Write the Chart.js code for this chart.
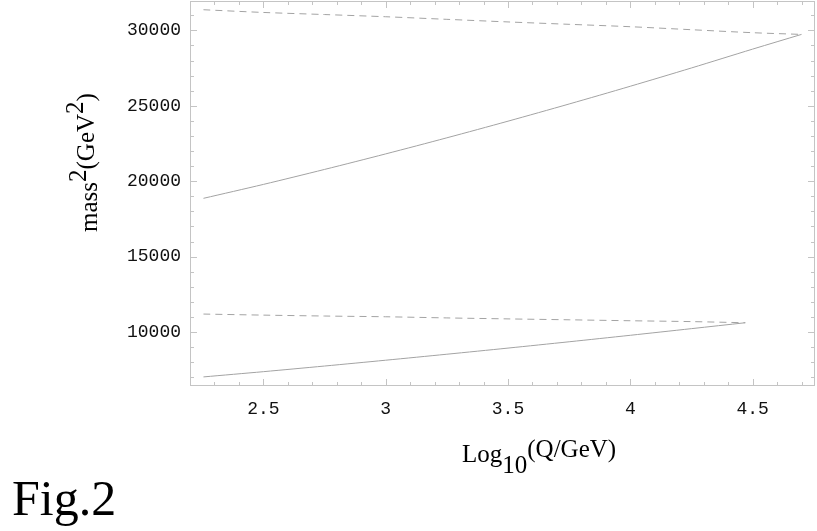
<!DOCTYPE html>
<html>
<head>
<meta charset="utf-8">
<script src="https://cdn.jsdelivr.net/npm/chart.js@4"></script>
<style>
	body { margin: 0; background: #fff; }
	#wrap { position: relative; width: 817px; height: 531px; }
	#plot { position: absolute; left: 0; top: 0; }
	.lbl { position: absolute; white-space: nowrap; font-family: "Liberation Serif", serif; color: #000; line-height: 1; }
	.lbl span { position: relative; }
	#ytitle { left: 76px; top: 232px; font-size: 25px; transform: rotate(-90deg); transform-origin: 0 0; }
	#xtitle { left: 462px; top: 441px; font-size: 25px; }
	#fig { left: 12px; top: 473px; font-size: 50px; }
</style>
</head>
<body>
<div id="wrap">
	<canvas id="plot" width="817" height="531"></canvas>
	<div class="lbl" id="ytitle">mass<span style="top:-11px">2</span><span style="top:-3px">(GeV</span><span style="top:-14px">2</span><span style="top:-3px">)</span></div>
	<div class="lbl" id="xtitle">Log<span style="top:11px">10</span><span style="top:-5px">(Q/GeV)</span></div>
	<div class="lbl" id="fig">Fig.2</div>
</div>
<script>
// values
var xUpper = [2.255, 2.5, 2.75, 3, 3.25, 3.5, 3.75, 4, 4.25, 4.5, 4.7];
var upperSolid = [18865, 19788, 20781, 21811, 22878, 23981, 25121, 26297, 27510, 28759, 29735];
var upperDashed = [31370, 31191, 31052, 30906, 30734, 30562, 30404, 30245, 30046, 29848, 29735];

var xLower = [2.255, 2.5, 2.75, 3, 3.25, 3.5, 3.75, 4, 4.25, 4.47];
var lowerSolid = [7023, 7370, 7744, 8130, 8527, 8934, 9353, 9783, 10223, 10615];
var lowerDashed = [11191, 11120, 11060, 11011, 10935, 10870, 10810, 10747, 10690, 10615];

var xTicks = [2.5, 3, 3.5, 4, 4.5];
var yTicks = [10000, 15000, 20000, 25000, 30000];

var lineGrey = "#a3a3a3",
	frameGrey = "#c4c4c4";

function toPoints(xs, ys) {
	var pts = [];
	xs.forEach(function (x, i) {
		pts.push({ x: x, y: ys[i] });
	});
	return pts;
}

function curve(xs, ys, dashed) {
	return {
		data: toPoints(xs, ys),
		showLine: true,
		borderColor: lineGrey,
		borderWidth: 1,
		borderDash: dashed ? [7, 5] : [],
		pointRadius: 0,
		tension: 0.3,
		fill: false
	};
}

// Mathematica style frame with inward ticks on all four sides
var framePlugin = {
	id: "frame",
	afterDatasetsDraw: function (chart) {
		var ctx = chart.ctx,
			a = chart.chartArea,
			xs = chart.scales.x,
			ys = chart.scales.y,
			v, p, len;

		ctx.save();
		ctx.strokeStyle = frameGrey;
		ctx.lineWidth = 1;
		ctx.strokeRect(a.left + 0.5, a.top + 0.5, a.right - a.left - 1, a.bottom - a.top - 1);
		ctx.beginPath();
		for (v = 22; v <= 47; v++) {
			p = Math.round(xs.getPixelForValue(v / 10)) + 0.5;
			if (p <= a.left + 1 || p >= a.right - 1) continue;
			len = (v % 5 === 0) ? 7 : 4;
			ctx.moveTo(p, a.bottom);
			ctx.lineTo(p, a.bottom - len);
			ctx.moveTo(p, a.top);
			ctx.lineTo(p, a.top + len);
		}
		for (v = 7; v <= 31; v++) {
			p = Math.round(ys.getPixelForValue(v * 1000)) + 0.5;
			if (p <= a.top + 1 || p >= a.bottom - 1) continue;
			len = (v % 5 === 0) ? 7 : 4;
			ctx.moveTo(a.left, p);
			ctx.lineTo(a.left + len, p);
			ctx.moveTo(a.right, p);
			ctx.lineTo(a.right - len, p);
		}
		ctx.stroke();
		ctx.restore();
	}
};

var tickFont = { family: "'Liberation Mono', monospace", size: 18 };

new Chart(document.getElementById("plot").getContext("2d"), {
	type: "scatter",
	data: {
		datasets: [
			curve(xUpper, upperDashed, true),
			curve(xUpper, upperSolid, false),
			curve(xLower, lowerDashed, true),
			curve(xLower, lowerSolid, false)
		]
	},
	options: {
		responsive: false,
		devicePixelRatio: 1,
		animation: false,
		layout: { padding: { top: 1, right: 2, left: 0, bottom: 0 } },
		plugins: {
			legend: { display: false },
			tooltip: { enabled: false }
		},
		scales: {
			x: {
				type: "linear",
				min: 2.2,
				max: 4.755,
				grid: { display: false, drawTicks: false },
				border: { display: false },
				ticks: {
					font: tickFont,
					color: "#111",
					padding: 12,
					maxRotation: 0,
					callback: function (v) { return String(v); }
				},
				afterBuildTicks: function (scale) {
					scale.ticks = xTicks.map(function (v) { return { value: v }; });
				},
				afterFit: function (scale) {
					scale.height = 145;
					scale.paddingLeft = 0;
					scale.paddingRight = 0;
				}
			},
			y: {
				type: "linear",
				min: 6420,
				max: 31950,
				grid: { display: false, drawTicks: false },
				border: { display: false },
				ticks: {
					font: tickFont,
					color: "#111",
					padding: 9,
					callback: function (v) { return String(v); }
				},
				afterBuildTicks: function (scale) {
					scale.ticks = yTicks.map(function (v) { return { value: v }; });
				},
				afterFit: function (scale) {
					scale.width = 190;
					scale.paddingTop = 0;
					scale.paddingBottom = 0;
				}
			}
		}
	},
	plugins: [framePlugin]
});
</script>
</body>
</html>
